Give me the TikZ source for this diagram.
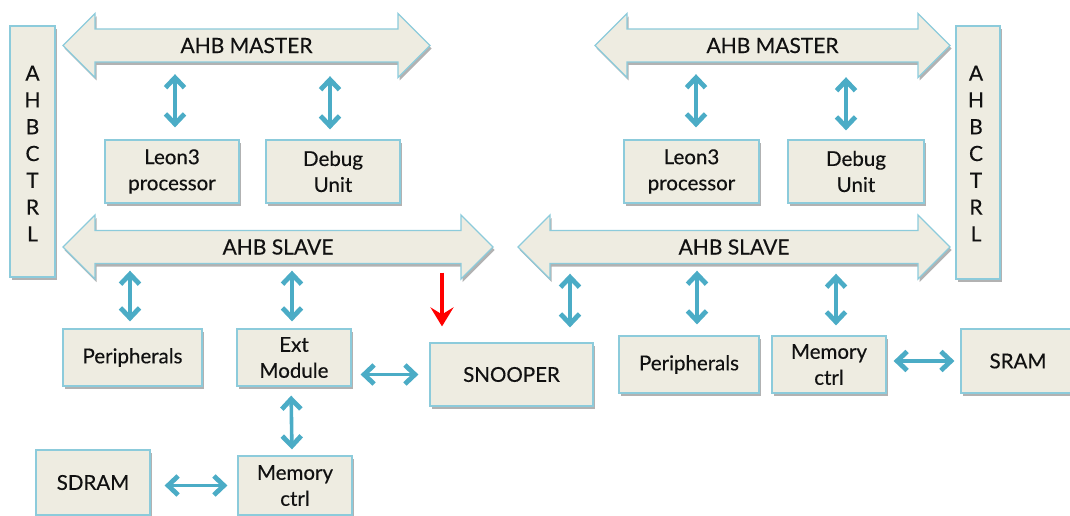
\documentclass[tikz,border=0pt]{standalone}
\usepackage{fontspec}
\setmainfont{Lato}[FakeBold=0.35]
\usetikzlibrary{arrows.meta,shadows,calc}
\definecolor{boxfill}{HTML}{EEECE1}
\definecolor{boxline}{HTML}{8CCBDB}
\definecolor{linkblue}{HTML}{4BACC6}
\definecolor{textdark}{HTML}{111111}

% horizontal bus: name, left tip x, right tip x, centre y, label
\newcommand\busarrow[5]{%
  \path[busshape]
    (#2,#4) -- ({#2+32},{#4-32}) -- ({#2+32},{#4-16.5}) -- ({#3-32},{#4-16.5})
    -- ({#3-32},{#4-32}) -- (#3,#4) -- ({#3-32},{#4+32}) -- ({#3-32},{#4+16.5})
    -- ({#2+32},{#4+16.5}) -- ({#2+32},{#4+32}) -- cycle;
  \node[buslabel,minimum width={(#3-#2)*1pt}] (#1) at ({(#2+#3)/2},#4) {#5};}

\begin{document}
\begin{tikzpicture}[x=1pt,y=-1pt,
  shade/.style={drop shadow={shadow xshift=1.5pt,shadow yshift=-3pt,fill=black,opacity=0.3}},
  busshape/.style={draw=boxline,line width=1.3pt,fill=boxfill,shade},
  buslabel/.style={inner sep=0pt,minimum height=33pt,text=textdark,font=\fontsize{21}{26}\selectfont},
  block/.style={draw=boxline,line width=1.2pt,fill=boxfill,shade,text=textdark,
    font=\fontsize{20.5}{26}\selectfont,align=center,inner sep=0pt},
  ctrlbox/.style={block},
  ctrltext/.style={text=textdark,font=\fontsize{21}{26.8}\selectfont,align=center,inner sep=0pt},
  barb/.tip={Straight Barb[length=10pt,width=19pt,line width=4.8pt]},
  link/.style={draw=linkblue,line width=3.6pt,barb-barb},
  snoop/.style={draw=red,line width=3.4pt,-{Stealth[length=19pt,width=23pt,inset=7pt]}}]

\path[use as bounding box] (0,0) rectangle (1070,516);
\clip (0,0) rectangle (1070,516);

% bus controllers
\node[ctrlbox,minimum width=45pt,minimum height=251pt] (ctrlL) at (32.5,151.5) {};
\node[ctrltext] (ctrlLt) at (32.5,153.5) {A\\H\\B\\C\\T\\R\\L};
\node[ctrlbox,minimum width=44pt,minimum height=253pt] (ctrlR) at (978,152.5) {};
\node[ctrltext] (ctrlRt) at (976,153.5) {A\\H\\B\\C\\T\\R\\L};

% buses
\busarrow{mL}{63}{430}{45.5}{AHB MASTER}
\busarrow{sL}{63}{493}{247}{AHB SLAVE}
\busarrow{mR}{595}{950}{45.5}{AHB MASTER}
\busarrow{sR}{518}{950}{247}{AHB SLAVE}

% blocks, left system
\node[block,minimum width=134pt,minimum height=63pt] (leonL) at (172,171.5) {Leon3\\processor};
\node[block,minimum width=134pt,minimum height=63pt] (dbgL) at (333,171.5) {Debug\\Unit};
\node[block,minimum width=139pt,minimum height=57pt] (perL) at (132.5,357.5) {Peripherals};
\node[block,minimum width=114pt,minimum height=57pt] (ext) at (294,357.5) {Ext\\Module};
\node[block,minimum width=114pt,minimum height=59pt] (memL) at (295,485.5) {Memory\\ctrl};
\node[block,minimum width=114pt,minimum height=65pt] (sdram) at (93,482.5) {SDRAM};

% snooper between the two systems
\node[block,minimum width=163pt,minimum height=63pt] (snooper) at (511.5,374.5) {SNOOPER};

% blocks, right system
\node[block,minimum width=135pt,minimum height=63pt] (leonR) at (691.5,171.5) {Leon3\\processor};
\node[block,minimum width=136pt,minimum height=63pt] (dbgR) at (856,171.5) {Debug\\Unit};
\node[block,minimum width=140pt,minimum height=57pt] (perR) at (689,364.5) {Peripherals};
\node[block,minimum width=114pt,minimum height=57pt] (memR) at (829,364.5) {Memory\\ctrl};
\node[block,minimum width=114pt,minimum height=64pt] (sram) at (1018,361) {SRAM};

% bus links
\draw[link,shorten <=12pt,shorten >=12pt] ([xshift=3pt]leonL.north) -- ([xshift=3pt]leonL.north |- mL.south);
\draw[link,shorten <=10pt,shorten >=14pt] ([xshift=-3pt]dbgL.north) -- ([xshift=-3pt]dbgL.north |- mL.south);
\draw[link,shorten <=12pt,shorten >=12pt] ([xshift=4.5pt]leonR.north) -- ([xshift=4.5pt]leonR.north |- mR.south);
\draw[link,shorten <=9pt,shorten >=15pt] ([xshift=-10pt]dbgR.north) -- ([xshift=-10pt]dbgR.north |- mR.south);

\draw[link,shorten <=7pt,shorten >=7pt] ([xshift=-2.5pt]perL.north) -- ([xshift=-2.5pt]perL.north |- sL.south);
\draw[link,shorten <=7pt,shorten >=7pt] ([xshift=-2pt]ext.north) -- ([xshift=-2pt]ext.north |- sL.south);
\draw[link,shorten <=9pt,shorten >=6pt] ([xshift=-3pt]ext.south) -- ([xshift=-3pt]memL.north);
\draw[link,shorten <=10pt,shorten >=14pt] (memL.west) -- (memL.west -| sdram.east);
\draw[link,shorten <=9pt,shorten >=11pt] (ext.east |- snooper.west) -- (snooper.west);
\draw[snoop,shorten <=9pt,shorten >=16pt] ([xshift=-69.5pt]snooper.north |- sL.south) -- ([xshift=-69.5pt]snooper.north);

\draw[link,shorten <=15pt,shorten >=10pt] ([xshift=58.5pt]snooper.north) -- ([xshift=58.5pt]snooper.north |- sR.south);
\draw[link,shorten <=11pt,shorten >=7pt] ([xshift=8pt]perR.north) -- ([xshift=8pt]perR.north |- sR.south);
\draw[link,shorten <=10pt,shorten >=10pt] ([xshift=7pt]memR.north) -- ([xshift=7pt]memR.north |- sR.south);
\draw[link,shorten <=7pt,shorten >=6pt] (memR.east |- sram.west) -- (sram.west);
\end{tikzpicture}
\end{document}
